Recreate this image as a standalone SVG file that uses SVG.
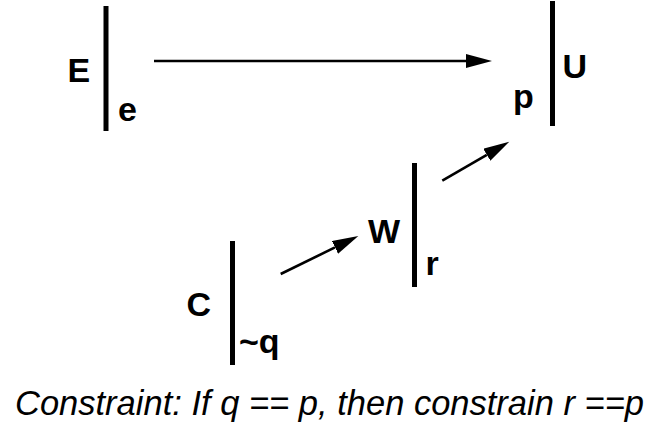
<svg xmlns="http://www.w3.org/2000/svg" width="658" height="431" viewBox="0 0 658 431">
<style>
.lbl{font-family:"Liberation Sans",Arial,sans-serif;font-weight:bold;font-size:34px;fill:#000}
.cap{font-family:"Liberation Sans",Arial,sans-serif;font-style:italic;font-size:34.5px;fill:#000}
.bar{fill:#000}
.conn{stroke:#000;stroke-width:2.6;fill:none;marker-end:url(#ah)}
</style>
<defs>
<marker id="ah" markerUnits="userSpaceOnUse" markerWidth="27" markerHeight="15" refX="0" refY="7" orient="auto" viewBox="0 0 27 15">
<path d="M0,0 L26,7 L0,14 z" fill="#000"/>
</marker>
</defs>
<rect width="658" height="431" fill="#fff"/>
<g id="node-E">
<rect class="bar" x="103.5" y="6" width="5" height="125"/>
<text class="lbl" x="67.5" y="82">E</text>
<text class="lbl" x="118" y="121">e</text>
</g>
<g id="node-U">
<rect class="bar" x="550" y="1" width="5" height="125"/>
<text class="lbl" x="562.5" y="78">U</text>
<text class="lbl" x="513" y="108">p</text>
</g>
<g id="node-W">
<rect class="bar" x="412" y="163" width="5" height="124"/>
<text class="lbl" x="368" y="243">W</text>
<text class="lbl" x="425.5" y="275">r</text>
</g>
<g id="node-C">
<rect class="bar" x="230" y="241" width="5" height="124"/>
<text class="lbl" x="186.5" y="316">C</text>
<text class="lbl" x="239" y="353">~q</text>
</g>
<g id="connectors">
<line class="conn" x1="154" y1="61" x2="466" y2="61"/>
<line class="conn" x1="280.7" y1="274" x2="335" y2="247.4"/>
<line class="conn" x1="442.3" y1="180.7" x2="486.8" y2="154.8"/>
</g>
<text class="cap" x="15" y="415">Constraint: If q == p, then constrain r ==p</text>
</svg>
